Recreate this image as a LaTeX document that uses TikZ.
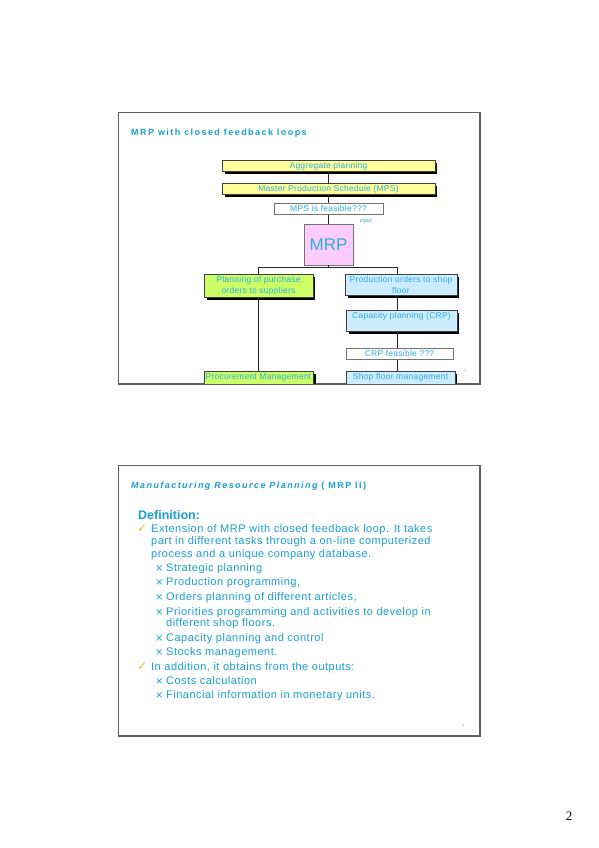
\documentclass[tikz,border=0pt]{standalone}
\usepackage{fontspec}
\setmainfont{Liberation Sans}
\newfontfamily\spacedfont[LetterSpace=16]{Liberation Sans}
\newfontfamily\bodyfont[LetterSpace=4.5]{Liberation Sans}
\newfontfamily\boxfont[LetterSpace=3]{Liberation Sans}
\newfontfamily\symfont{DejaVu Sans}
\newfontfamily\pagefont{Liberation Serif}
\usetikzlibrary{positioning, calc, shadows}
\definecolor{slidecyan}{RGB}{25,158,212}
\definecolor{boxcyan}{RGB}{45,172,226}
\definecolor{hdryellow}{RGB}{255,255,153}
\definecolor{hdrlime}{RGB}{204,255,102}
\definecolor{hdrblue}{RGB}{204,236,255}
\definecolor{hdrpink}{RGB}{255,204,255}
\definecolor{myframe}{RGB}{95,95,95}
\definecolor{mygold}{RGB}{238,188,36}
\definecolor{mygray}{RGB}{200,200,200}
\tikzset{
  slideframe/.style={rectangle, draw=myframe, line width=0.8pt, anchor=north west,
    inner sep=0pt},
  slidetitle/.style={font=\spacedfont\bfseries\fontsize{9}{11}\selectfont,
    text=slidecyan, inner sep=0pt, anchor=base west},
  flowbox/.style={rectangle, draw=black!75, line width=0.5pt, text=boxcyan,
    font=\boxfont\fontsize{8.5}{10.5}\selectfont, align=center,
    inner xsep=1pt, inner ysep=2.3pt, anchor=north west},
  shadowed/.style={drop shadow={shadow xshift=2.5pt, shadow yshift=-2.5pt,
    fill=black, opacity=1}},
  onebox/.style={flowbox, text height=6.2pt, text depth=1.8pt, inner ysep=1.6pt},
  tallbox/.style={flowbox, text height=6.2pt, text depth=10pt, inner ysep=2.9pt},
  yellowbox/.style={onebox, fill=hdryellow, shadowed},
  whitebox/.style={onebox, fill=white, draw=black!55},
  limebox/.style={flowbox, fill=hdrlime, shadowed},
  bluebox/.style={flowbox, fill=hdrblue, shadowed},
  mrpbox/.style={rectangle, draw=black!55, line width=0.5pt, fill=hdrpink,
    text=boxcyan, font=\fontsize{17}{19}\selectfont, anchor=north west},
  flowline/.style={draw=black!85, line width=0.7pt},
  smalllabel/.style={font=\itshape\fontsize{5.5}{6}\selectfont, text=boxcyan,
    inner sep=0pt},
  slidenum/.style={font=\fontsize{5}{6}\selectfont, text=mygray, inner sep=0pt},
  bodytext/.style={font=\bodyfont\fontsize{11}{12.5}\selectfont, text=slidecyan,
    inner sep=0pt, anchor=base west, align=left},
  checkmark/.style={font=\symfont\fontsize{12}{14}\selectfont, text=mygold,
    inner sep=0pt, anchor=base west},
  crossmark/.style={font=\symfont\fontsize{10}{12}\selectfont, text=slidecyan,
    inner sep=0pt, anchor=base west}
}
\begin{document}
\begin{tikzpicture}[x=1pt, y=-1pt]
  \useasboundingbox[fill=white] (0,0) rectangle (599,848);

  % first slide: the MRP loop
  \node[slideframe, minimum width=361pt, minimum height=271pt] (slideA) at (118,112) {};
  \draw[myframe, line width=1.4pt] (slideA.north east) -- (slideA.south east) -- (slideA.south west);
  \node[slidetitle] (titleA) at (131,135.5) {MRP with closed feedback loops};
  \begin{scope}
    \clip (slideA.north west) rectangle (slideA.south east);
    \node[yellowbox, minimum width=212.5pt] (agg) at (222,160) {Aggregate planning};
    \node[yellowbox, minimum width=212.5pt] (mps) at (222,183) {Master Production Schedule (MPS)};
    \node[whitebox, minimum width=108.5pt] (feas) at (274,203) {MPS is feasible???};
    \node[smalllabel] (inputlbl) at (366,221) {input};
    \node[mrpbox, minimum width=49.5pt, minimum height=40.5pt] (mrp) at (303.5,224) {MRP};
    \node[limebox, minimum width=108.5pt] (plan) at (204,274) {Planning of purchase\\orders to suppliers};
    \node[bluebox, minimum width=111.5pt] (prod) at (345,274) {Production orders to shop\\floor};
    \node[tallbox, bluebox, minimum width=110.5pt] (cap) at (346,310) {Capacity planning (CRP)};
    \node[whitebox, minimum width=106.5pt] (crpf) at (346,348) {CRP feasible ???};
    \node[tallbox, bluebox, minimum width=108.5pt] (shop) at (346,371) {Shop floor management};
    \node[tallbox, limebox, minimum width=109.5pt] (proc) at (203.5,371) {Procurement Management};
    \coordinate (split) at (328.5,267.5);
    \coordinate (spine) at (397.5,0);
    \draw[flowline] (agg) -- (mps);
    \draw[flowline] (mps) -- (feas);
    \draw[flowline] (feas) -- (mrp);
    \draw[flowline] (mrp.south) -- (split);
    \draw[flowline] (plan.north) |- (split) -| (prod.north -| spine);
    \draw[flowline] (prod.south -| spine) -- (cap.north -| spine);
    \draw[flowline] (cap.south -| spine) -- (crpf.north -| spine);
    \draw[flowline] (crpf.south -| spine) -- (shop.north -| spine);
    \draw[flowline] (plan) -- (proc);
  \end{scope}
  \node[slidenum] (numA) at (465,371) {3};

  % second slide: MRP II definition
  \node[slideframe, minimum width=361pt, minimum height=270pt] (slideB) at (118,465) {};
  \draw[myframe, line width=1.4pt] (slideB.north east) -- (slideB.south east) -- (slideB.south west);
  \node[slidetitle] (titleB) at (131,488.5) {\itshape Manufacturing Resource Planning \upshape( MRP II)};
  \node[bodytext, font=\bfseries\fontsize{12.5}{14}\selectfont] (defn) at (138,519) {Definition:};
  \node[checkmark] (chkA) at (137,532) {✓};
  \node[bodytext] (itemA) at (151,557) {Extension of MRP with closed feedback loop. It takes\\part in different tasks through a on-line computerized\\process and a unique company database.};
  \node[crossmark] (xA) at (155,571) {×};
  \node[bodytext] (subA) at (166,571) {Strategic planning};
  \node[crossmark] (xB) at (155,585) {×};
  \node[bodytext] (subB) at (166,585) {Production programming,};
  \node[crossmark] (xC) at (155,600) {×};
  \node[bodytext] (subC) at (166,600) {Orders planning of different articles,};
  \node[crossmark] (xD) at (155,615) {×};
  \node[bodytext, font=\bodyfont\fontsize{11}{11.5}\selectfont] (subD) at (166,626.5) {Priorities programming and activities to develop in\\different shop floors.};
  \node[crossmark] (xE) at (155,641) {×};
  \node[bodytext] (subE) at (166,641) {Capacity planning and control};
  \node[crossmark] (xF) at (155,655) {×};
  \node[bodytext] (subF) at (166,655) {Stocks management.};
  \node[checkmark] (chkB) at (137,670) {✓};
  \node[bodytext] (itemB) at (151,670) {In addition, it obtains from the outputs:};
  \node[crossmark] (xG) at (155,684) {×};
  \node[bodytext] (subG) at (166,684) {Costs calculation};
  \node[crossmark] (xH) at (155,698) {×};
  \node[bodytext] (subH) at (166,698) {Financial information in monetary units.};
  \node[slidenum] (numB) at (463,726) {4};

  \node[font=\pagefont\fontsize{13}{15}\selectfont, inner sep=0pt] (pagenum) at (569,816) {2};
\end{tikzpicture}
\end{document}
